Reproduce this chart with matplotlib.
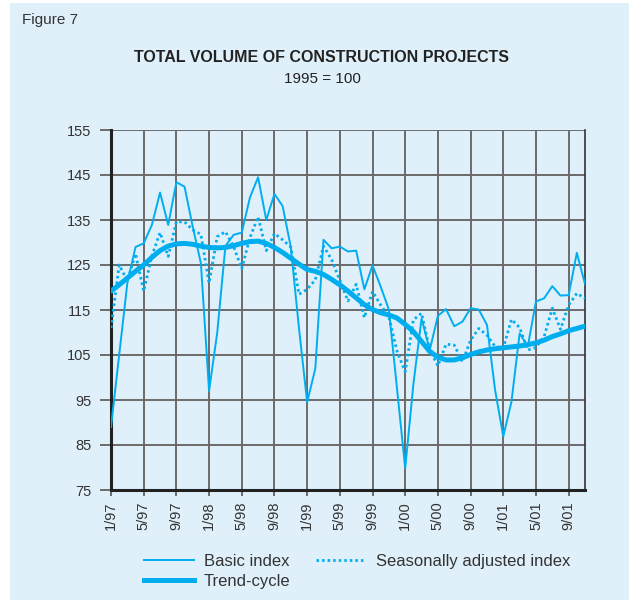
import numpy as np
import matplotlib
matplotlib.use('Agg')
import matplotlib.pyplot as plt
from matplotlib.patches import Rectangle
from matplotlib.lines import Line2D

# Datos mensuales 1/97 - 11/01 (1995 = 100)
basic_index = [
    89, 105, 121, 129, 129.8, 133.9, 141.1, 133.9, 143.4, 142.4, 133.5, 125.4,
    97, 110, 129.2, 131.7, 132.2, 140, 144.5, 135, 140.8, 138.1, 129, 111,
    94.5, 102, 130.6, 128.7, 129.1, 128, 128.2, 119.6, 124.9, 120.2, 115.1, 97.5,
    79.8, 98.5, 113.1, 106.1, 113.7, 115.2, 111.4, 112.4, 115.4, 115.1, 111.7, 97.2,
    86.9, 94.6, 109.8, 106.9, 116.9, 117.6, 120.3, 118.2, 118.3, 127.7, 120.8,
]
seasonal_adj = [
    111, 125, 121.5, 127.5, 119.2, 127, 132.2, 126.9, 134.6, 134.6, 132.8, 131.8,
    121, 131.3, 132.4, 129.1, 124.2, 131.1, 135.7, 128.2, 132, 130.6, 129, 118.5,
    119.6, 121.7, 129.2, 126.2, 121.6, 117, 120.7, 113.3, 119.1, 116.1, 113.5, 105.8,
    101.3, 112.8, 114.3, 106.1, 102.6, 107.4, 107.2, 103.5, 108.3, 110.9, 109.4, 106.9,
    106.5, 112.9, 111.1, 106.1, 106.7, 109.1, 115.4, 110.7, 116.1, 118.7, 117.6,
]
trend_cycle = [
    119.2, 120.6, 122.1, 123.6, 125, 126.7, 128.2, 129.2, 129.7, 129.8, 129.6, 129.2,
    128.9, 128.8, 128.9, 129.3, 129.8, 130.2, 130.3, 129.8, 128.9, 127.8, 126.5, 125.2,
    124, 123.6, 122.9, 121.8, 120.6, 119.2, 117.7, 116.2, 115.1, 114.4, 113.9, 113.2,
    111.8, 110.2, 108, 105.8, 104.5, 103.9, 103.9, 104.4, 105.1, 105.7, 106.1, 106.4,
    106.6, 106.8, 107, 107.3, 107.7, 108.3, 109.1, 109.7, 110.4, 110.9, 111.4,
]
tick_labels = ['1/97', '5/97', '9/97', '1/98', '5/98', '9/98', '1/99', '5/99',
               '9/99', '1/00', '5/00', '9/00', '1/01', '5/01', '9/01']
y_ticks = [75, 85, 95, 105, 115, 125, 135, 145, 155]

bg = '#dff0fa'
blue = '#00aeef'
grid_c = '#6b6b6b'

plt.rcParams['font.family'] = ['Liberation Sans Narrow', 'Liberation Sans', 'DejaVu Sans']

fig = plt.figure(figsize=(6.29, 6.0), dpi=100)
fig.patch.set_facecolor('white')
fig.patches.append(Rectangle((10 / 629, 0), 1 - 10 / 629, 1 - 3 / 600,
                             transform=fig.transFigure, facecolor=bg,
                             edgecolor='none', zorder=-10))

ax = fig.add_axes([111 / 629, 1 - 490 / 600, 474 / 629, 360 / 600])
ax.set_facecolor(bg)

x = np.arange(len(basic_index))
ax.plot(x, basic_index, color=blue, lw=1.4, zorder=3)
ax.plot(x, seasonal_adj, color=blue, lw=2.0, ls=(0, (0.9, 1.1)), zorder=3)
ax.plot(x, trend_cycle, color=blue, lw=3.6, solid_capstyle='round', zorder=4)

ax.set_xlim(0, len(basic_index) - 1)
ax.set_ylim(75, 155)
ax.set_xticks(np.arange(0, len(tick_labels) * 4, 4))
ax.set_xticklabels(tick_labels, rotation=90, fontsize=10.5, color='#333333')
ax.set_yticks(y_ticks)
ax.set_yticklabels([str(v) for v in y_ticks], fontsize=10.5, color='#333333')
ax.grid(True, color=grid_c, lw=1.4)
ax.set_axisbelow(True)
ax.tick_params(axis='y', length=8, width=1.4, color=grid_c, pad=6)
ax.tick_params(axis='x', length=4, width=1.4, color=grid_c, pad=4)

ax.spines['top'].set_visible(False)
ax.spines['right'].set_color('#333333')
ax.spines['right'].set_linewidth(1.2)
ax.spines['left'].set_color('#222222')
ax.spines['left'].set_linewidth(2.2)
ax.spines['bottom'].set_color('#222222')
ax.spines['bottom'].set_linewidth(2.2)

fig.text(22 / 629, 1 - 20 / 600, 'Figure 7', fontsize=11, color='#333333',
         va='center', ha='left')
fig.text(322 / 629, 1 - 58 / 600, 'TOTAL VOLUME OF CONSTRUCTION PROJECTS',
         fontsize=11.5, fontweight='bold', color='#222222', ha='center', va='center')
fig.text(322 / 629, 1 - 79 / 600, '1995 = 100', fontsize=11, color='#222222',
         ha='center', va='center')

# leyenda
handles = [
    Line2D([], [], color=blue, lw=1.4),
    Line2D([], [], color=blue, lw=3.6),
    Line2D([], [], color=blue, lw=2.0, ls=(0, (0.9, 1.1))),
]
labels = ['Basic index', 'Trend-cycle', 'Seasonally adjusted index']
fig.legend(handles, labels, loc='upper left', bbox_to_anchor=(129 / 629, 1 - 539 / 600),
           ncol=2, frameon=False, fontsize=12, handlelength=3.0, handletextpad=0.6,
           columnspacing=1.5, labelspacing=0.28, labelcolor='#333333')

fig.savefig('out.png', dpi=100, facecolor='white')
